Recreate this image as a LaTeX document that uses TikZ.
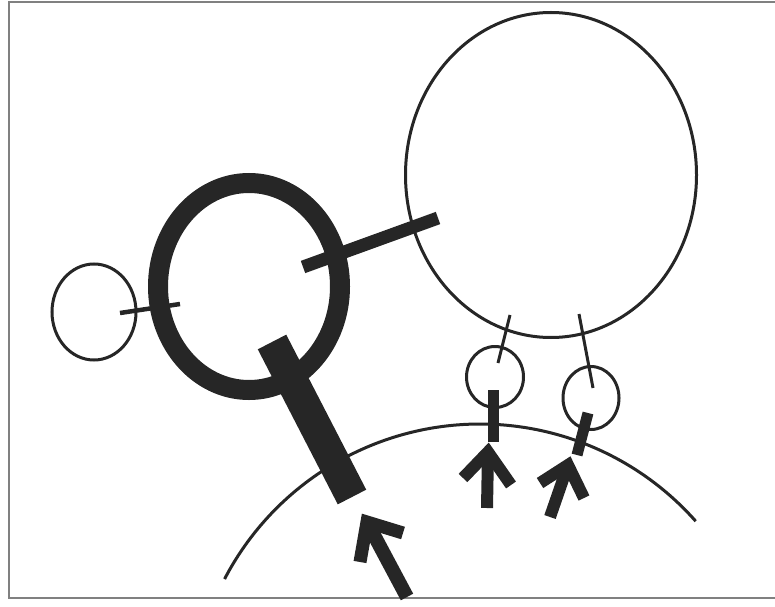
\documentclass[tikz,border=0pt]{standalone}
\usepackage{xcolor}
\usepackage{tikz}
\usetikzlibrary{shapes.geometric}
\definecolor{ink}{HTML}{262626}
\tikzset{orb/.style={draw=ink,ellipse,inner sep=0pt,line width=3pt},
         link/.style={draw=ink,line width=3pt},
         slab/.style={draw=ink,line cap=butt},
         push/.style={draw=ink,line cap=butt,line join=miter}}

\begin{document}
\begin{tikzpicture}[x=1pt,y=1pt]
\useasboundingbox (0,0) rectangle (775,606);
\draw[gray,line width=1.6pt] (775,604) -- (9,604) -- (9,8) -- (775,8);
% circles
\node[orb,minimum width=84pt,minimum height=96pt] (side) at (94,294) {};
\node[orb,line width=20pt,minimum width=182pt,minimum height=207pt] (lens) at (249,319.5) {};
\node[orb,minimum width=291pt,minimum height=325pt] (cell) at (551,431) {};
\node[orb,minimum width=57pt,minimum height=61pt] (pa) at (495,229) {};
\node[orb,minimum width=56pt,minimum height=63pt] (pb) at (591,208) {};
% links
\coordinate (s1) at (120,293); \coordinate (s2) at (180,302);
\coordinate (l1) at (303,339); \coordinate (l2) at (438,388);
\coordinate (h1) at (272,264); \coordinate (h2) at (352,109);
\coordinate (a1) at (510,291); \coordinate (a2) at (498,243);
\coordinate (b1) at (579,292); \coordinate (b2) at (593,218);
\coordinate (a3) at (493,216); \coordinate (a4) at (493,164);
\coordinate (b3) at (588,193); \coordinate (b4) at (577,151);
\draw[link,line width=4.5pt] (s1) -- (s2);
\draw[slab,line width=13pt] (l1) -- (l2);
\draw[slab,line width=32pt] (h1) -- (h2);
\draw[link] (a1) -- (a2);
\draw[link] (b1) -- (b2);
\draw[slab,line width=11pt] (a3) -- (a4);
\draw[slab,line width=11pt] (b3) -- (b4);
% surface
\draw[ink,line width=3pt] (480,-106) ++(152.5:288) arc (152.5:41.5:288);
% arrows
\coordinate (ta) at (488,154); \coordinate (tb) at (568,141); \coordinate (tc) at (367,84);
\draw[push,line width=12pt] (487,98) -- (ta);
\draw[push,line width=12pt] (463,128) -- (ta) -- (511,121);
\draw[push,line width=12pt] (550,89) -- (tb);
\draw[push,line width=12pt] (540,123) -- (tb) -- (584,108);
\draw[push,line width=14pt] (407,9) -- (tc);
\draw[push,line width=13pt] (360,44) -- (tc) -- (403,73);
\end{tikzpicture}
\end{document}
